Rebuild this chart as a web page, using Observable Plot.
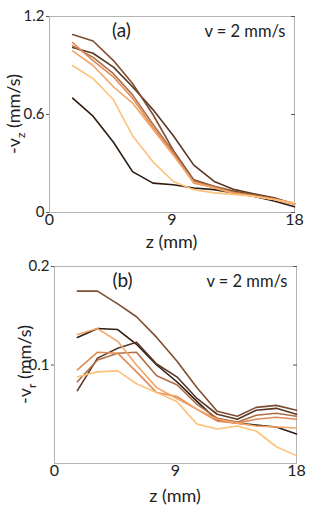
<!DOCTYPE html>
<html>
<head>
<meta charset="utf-8">
<script src="https://cdn.jsdelivr.net/npm/d3@7"></script>
<script src="https://cdn.jsdelivr.net/npm/@observablehq/plot@0.6"></script>
<style>
  body { margin: 0; background: #fff; }
  #chart { width: 313px; }
  svg { display: block; font-family: Lato, "Liberation Sans", sans-serif; }
</style>
</head>
<body>
<div id="chart"></div>
<script>
// Shared axial positions (mm)
const z = [1.7, 3.2, 4.7, 6.1, 7.6, 9.1, 10.6, 12.1, 13.6, 15.0, 16.5, 18.0];

// Series names and colours (copper-like ramp)
const seriesNames = ["s1", "s2", "s3", "s4", "s5", "s6", "s7"];
const seriesColors = ["#2e1c12", "#5a3824", "#7f4d32", "#b06e46", "#e08a58", "#f4a566", "#fdc27a"];

// Panel (a): -v_z (mm/s)
const vz1 = [0.70, 0.59, 0.43, 0.25, 0.18, 0.17, 0.15, 0.14, 0.12, 0.10, 0.07, 0.035];
const vz2 = [1.01, 0.975, 0.89, 0.77, 0.63, 0.47, 0.29, 0.19, 0.14, 0.115, 0.09, 0.05];
const vz3 = [1.09, 1.05, 0.93, 0.79, 0.60, 0.38, 0.20, 0.16, 0.13, 0.11, 0.085, 0.055];
const vz4 = [1.02, 0.95, 0.85, 0.72, 0.54, 0.37, 0.19, 0.16, 0.12, 0.105, 0.085, 0.055];
const vz5 = [1.04, 0.93, 0.83, 0.70, 0.52, 0.36, 0.18, 0.155, 0.12, 0.10, 0.08, 0.05];
const vz6 = [0.99, 0.90, 0.77, 0.67, 0.51, 0.35, 0.185, 0.15, 0.115, 0.10, 0.08, 0.05];
const vz7 = [0.90, 0.82, 0.69, 0.47, 0.31, 0.19, 0.14, 0.12, 0.11, 0.10, 0.08, 0.06];

// Panel (b): -v_r (mm/s)
const vr1 = [0.128, 0.137, 0.136, 0.121, 0.100, 0.083, 0.063, 0.044, 0.041, 0.039, 0.037, 0.030];
const vr2 = [0.074, 0.107, 0.117, 0.123, 0.101, 0.088, 0.066, 0.050, 0.045, 0.054, 0.056, 0.050];
const vr3 = [0.175, 0.175, 0.162, 0.149, 0.128, 0.104, 0.077, 0.053, 0.048, 0.057, 0.059, 0.054];
const vr4 = [0.083, 0.105, 0.112, 0.113, 0.089, 0.080, 0.060, 0.046, 0.042, 0.049, 0.051, 0.048];
const vr5 = [0.095, 0.113, 0.112, 0.093, 0.072, 0.068, 0.055, 0.043, 0.041, 0.045, 0.047, 0.045];
const vr6 = [0.131, 0.137, 0.124, 0.100, 0.077, 0.066, 0.055, 0.045, 0.041, 0.038, 0.037, 0.036];
const vr7 = [0.088, 0.093, 0.094, 0.081, 0.072, 0.063, 0.040, 0.035, 0.038, 0.033, 0.017, 0.008];

// Tick values
const xTicks = [0, 9, 18];
const yTicksA = [0, 0.6, 1.2];
const yTicksB = [0.1, 0.2];

function toRows(arrays) {
  const rows = [];
  arrays.forEach((arr, i) => arr.forEach((v, j) => rows.push({ z: z[j], v, s: seriesNames[i] })));
  return rows;
}
const rowsA = toRows([vz1, vz2, vz3, vz4, vz5, vz6, vz7]);
const rowsB = toRows([vr1, vr2, vr3, vr4, vr5, vr6, vr7]);

const fmtY = d => d === 0 ? "0" : d.toFixed(1);
const frameColor = "#b4b4b4";
const textColor = "#222";

function panel({ rows, yDomain, yTicks, margins, tag, tagDx, ylabel, ysub }) {
  const p = Plot.plot({
    width: 313,
    height: 254,
    ...margins,
    x: { domain: [0, 18] },
    y: { domain: yDomain },
    color: { domain: seriesNames, range: seriesColors },
    style: { color: textColor, background: "white" },
    marks: [
      Plot.frame({ stroke: frameColor, strokeWidth: 1 }),
      Plot.axisX({ ticks: xTicks, tickSize: 0, tickPadding: 1, fontSize: 16, label: null, tickFormat: d => String(d) }),
      Plot.axisY({ ticks: yTicks, tickSize: 3, tickPadding: 2, fontSize: 15, label: null, tickFormat: fmtY, stroke: "#555" }),
      Plot.axisY({ anchor: "right", ticks: yTicks, tickSize: 4, dx: -4, tickFormat: () => "", label: null, stroke: "#555" }),
      Plot.line(rows, { x: "z", y: "v", z: "s", stroke: "s", strokeWidth: 1.6, curve: "linear" }),
      Plot.text([tag], { frameAnchor: "top-left", dx: tagDx, dy: 7, fontSize: 19, fill: textColor, textAnchor: "middle", lineAnchor: "top" }),
      Plot.text(["v = 2 mm/s"], { frameAnchor: "top-right", dx: -9, dy: 9, fontSize: 16.5, fill: textColor, textAnchor: "end", lineAnchor: "top" })
    ]
  });
  const svg = d3.select(p);
  const innerCx = margins.marginLeft + (313 - margins.marginLeft - margins.marginRight) / 2;
  svg.append("text")
    .attr("x", innerCx).attr("y", 248)
    .attr("text-anchor", "middle")
    .attr("font-size", 18).attr("fill", textColor)
    .text("z (mm)");
  const yc = margins.marginTop + (254 - margins.marginTop - margins.marginBottom) / 2;
  const yl = svg.append("text")
    .attr("transform", `translate(${ylabel.x},${yc}) rotate(-90)`)
    .attr("text-anchor", "middle")
    .attr("font-size", 18).attr("fill", textColor);
  yl.append("tspan").text("-v");
  yl.append("tspan").attr("font-size", 12).attr("dy", 5).text(ysub);
  yl.append("tspan").attr("dy", -5).text(" (mm/s)");
  return p;
}

const chart = document.getElementById("chart");
chart.appendChild(panel({
  rows: rowsA, yDomain: [0, 1.2], yTicks: yTicksA,
  margins: { marginLeft: 49, marginRight: 19, marginTop: 16, marginBottom: 42 },
  tag: "(a)", tagDx: 72, ylabel: { x: 20 }, ysub: "z"
}));
chart.appendChild(panel({
  rows: rowsB, yDomain: [0, 0.2], yTicks: yTicksB,
  margins: { marginLeft: 54, marginRight: 17, marginTop: 12, marginBottom: 45 },
  tag: "(b)", tagDx: 68, ylabel: { x: 31 }, ysub: "r"
}));
</script>
</body>
</html>
